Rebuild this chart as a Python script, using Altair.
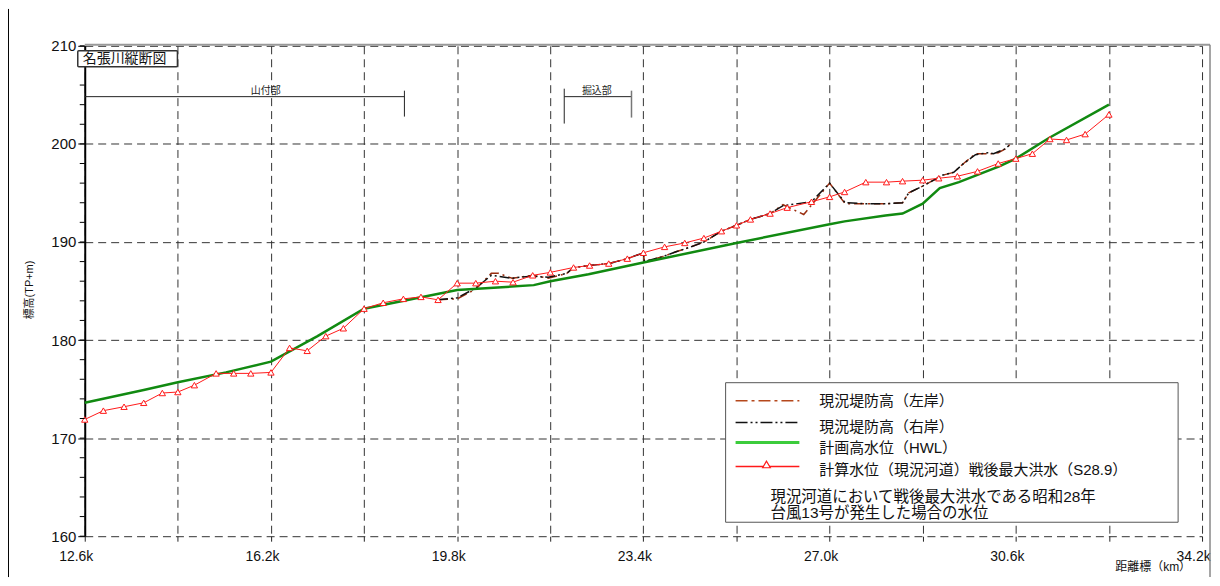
import altair as alt
import pandas as pd

# ---------------- data ----------------
# 計画高水位(HWL)
hwl_km = [12.6, 13.74, 14.4, 15.33, 16.2, 17.1, 18.0, 19.8, 21.28, 21.6, 22.34, 23.4,
          25.2, 27.0, 27.29, 28.08, 28.41, 28.8, 29.13, 29.5, 30.28, 30.6, 31.24, 32.4]
hwl_val = [173.6, 174.9, 175.7, 176.7, 177.8, 180.4, 183.2, 185.1, 185.6, 186.0, 186.7, 187.9,
           189.9, 191.8, 192.1, 192.7, 192.9, 193.9, 195.5, 196.1, 197.7, 198.5, 200.6, 204.0]

# 計算水位(現況河道)戦後最大洪水(S28.9)
calc_km = [12.6, 12.96, 13.36, 13.74, 14.1, 14.4, 14.72, 15.14, 15.48, 15.81, 16.2, 16.56,
           16.9, 17.26, 17.6, 18.0, 18.37, 18.76, 19.1, 19.43, 19.8, 20.16, 20.54, 20.88,
           21.26, 21.6, 22.05, 22.36, 22.73, 23.09, 23.4, 23.81, 24.2, 24.57, 24.91, 25.2,
           25.47, 25.85, 26.18, 26.65, 27.0, 27.29, 27.7, 28.1, 28.41, 28.8, 29.11, 29.47,
           29.86, 30.26, 30.6, 30.92, 31.26, 31.58, 31.94, 32.4]
calc_val = [171.9, 172.8, 173.2, 173.6, 174.6, 174.7, 175.4, 176.6, 176.6, 176.6, 176.7, 179.2,
            178.9, 180.4, 181.2, 183.2, 183.8, 184.2, 184.4, 184.1, 185.8, 185.8, 186.0, 185.9,
            186.6, 186.9, 187.4, 187.6, 187.8, 188.3, 188.9, 189.5, 189.9, 190.4, 191.1, 191.7,
            192.3, 192.9, 193.5, 194.1, 194.6, 195.1, 196.1, 196.1, 196.2, 196.3, 196.5, 196.7,
            197.2, 198.0, 198.5, 199.0, 200.5, 200.4, 201.0, 203.0]

# 現況堤防高(左岸)
left_km = [19.43, 19.8, 20.16, 20.46, 20.6, 20.86, 21.26, 21.56, 21.92, 22.05, 22.36, 22.73,
           23.09, 23.4, 23.42, 23.77, 24.03, 24.32, 24.57, 24.91, 25.2, 25.47, 25.85, 26.1,
           26.5, 27.0, 27.3, 27.7, 28.1, 28.41, 28.53, 28.8, 29.18, 29.4, 29.59, 29.82,
           30.05, 30.17, 30.26, 30.4, 30.5]
left_val = [184.1, 184.2, 185.2, 186.8, 186.8, 186.3, 186.6, 186.3, 186.8, 187.4, 187.6, 187.8,
            188.3, 188.9, 188.0, 188.5, 189.0, 189.5, 190.0, 191.1, 191.7, 192.3, 192.9, 193.8,
            192.8, 196.0, 193.9, 193.9, 193.9, 194.0, 195.0, 195.7, 196.8, 197.1, 198.0, 199.0,
            199.0, 199.0, 199.1, 199.5, 200.0]

# 現況堤防高(右岸)
right_km = [19.43, 19.8, 20.16, 20.46, 20.86, 21.0, 21.26, 21.56, 21.92, 22.05, 22.36, 22.73,
            23.09, 23.4, 23.42, 23.77, 24.03, 24.32, 24.57, 24.91, 25.2, 25.47, 25.85, 26.1,
            26.65, 27.0, 27.3, 27.7, 28.1, 28.41, 28.53, 28.8, 29.18, 29.4, 29.59, 29.82,
            30.05, 30.17, 30.26, 30.4, 30.5]
right_val = [184.1, 184.3, 185.3, 186.6, 186.3, 186.4, 186.5, 186.4, 186.8, 187.4, 187.6, 187.8,
             188.3, 188.9, 188.0, 188.5, 189.0, 189.5, 190.0, 191.1, 191.7, 192.3, 192.9, 193.7,
             194.1, 196.0, 194.0, 193.9, 193.9, 194.0, 195.0, 195.7, 196.8, 197.1, 198.0, 198.9,
             199.1, 199.0, 199.2, 199.5, 200.0]

# section brackets
section_names = ["山付部", "掘込部"]
section_start = [12.6, 21.87]
section_end = [18.78, 23.17]
section_label_km = [16.1, 22.5]

# axis ticks
x_ticks = [12.6, 14.4, 16.2, 18.0, 19.8, 21.6, 23.4, 25.2, 27.0, 28.8, 30.6, 32.4, 34.2]
y_ticks = [160, 170, 180, 190, 200, 210]
y_minor = [v for v in range(160, 211, 2)]

title_text = "名張川縦断図"
y_title = "標高(TP+m)"
x_title = "距離標（km）"
legend_labels = ["現況堤防高（左岸）", "現況堤防高（右岸）", "計画高水位（HWL）",
                 "計算水位（現況河道）戦後最大洪水（S28.9）"]
note_lines = ["現況河道において戦後最大洪水である昭和28年", "台風13号が発生した場合の水位"]

# ---------------- chart ----------------
FONT = "Liberation Sans, Noto Sans CJK JP"
W, H = 1121, 492
PAD = {"left": 77, "top": 37, "right": 10, "bottom": 41}

BROWN = "#9a2e10"
BROWN_LEG = "#b5481c"
GREEN = "#118a11"
GREEN_LEG = "#3ccc3c"
RED = "#ff1a1a"

df_hwl = pd.DataFrame({"km": hwl_km, "val": hwl_val})
df_calc = pd.DataFrame({"km": calc_km, "val": calc_val})
df_left = pd.DataFrame({"km": left_km, "val": left_val})
df_right = pd.DataFrame({"km": right_km, "val": right_val})
df_sec = pd.DataFrame({"name": section_names, "start": section_start,
                       "end": section_end, "lab": section_label_km})
df_minor = pd.DataFrame({"val": y_minor})
one = pd.DataFrame({"k": [0]})

xscale = alt.Scale(domain=[12.6, 34.2], nice=False, zero=False)
yscale = alt.Scale(domain=[160, 210], nice=False, zero=False)

x_axis = alt.Axis(values=x_ticks, grid=True, gridDash=[8, 5], gridColor="#333333",
                  gridWidth=1, domain=False, ticks=True, tickSize=5, tickColor="#222222",
                  labelFont="Liberation Sans", labelFontSize=14, labelColor="#111111",
                  labelPadding=8, labelOffset=-9, labelFlush=False, labelOverlap=False,
                  labelExpr="(round((datum.value-12.6)/1.8) % 2 == 0) ? format(datum.value, '.1f') + 'k' : ''",
                  title=None)
y_axis = alt.Axis(values=y_ticks, grid=True, gridDash=[8, 5], gridColor="#333333",
                  gridWidth=1, domain=True, domainColor="#000000", domainWidth=2,
                  tickSize=7, tickColor="#000000", labelFont="Liberation Sans",
                  labelFontSize=15, labelColor="#111111", labelPadding=2, title=None)

X = alt.X("km:Q", scale=xscale, axis=x_axis)
Y = alt.Y("val:Q", scale=yscale, axis=y_axis)


def txt(s, x, y, size, align="left", color="#111111", angle=None, baseline="middle"):
    props = dict(align=align, baseline=baseline, fontSize=size, font=FONT, color=color)
    if angle is not None:
        props["angle"] = angle
    return alt.Chart(one).mark_text(**props).encode(
        x=alt.value(x), y=alt.value(y), text=alt.value(s))


def prule(x1, x2, y1, y2, color="#000000", width=1.0, dash=None):
    props = dict(color=color, strokeWidth=width)
    if dash:
        props["strokeDash"] = dash
    return alt.Chart(one).mark_rule(**props).encode(
        x=alt.value(x1), x2=alt.value(x2), y=alt.value(y1), y2=alt.value(y2))


left_line = alt.Chart(df_left).mark_line(color=BROWN, strokeWidth=1.5,
                                         strokeDash=[10, 4, 2, 4]).encode(x=X, y=Y)
right_line = alt.Chart(df_right).mark_line(color="#111111", strokeWidth=1.5,
                                           strokeDash=[10, 3, 2, 3, 2, 3]).encode(x=X, y=Y)
hwl_line = alt.Chart(df_hwl).mark_line(color=GREEN, strokeWidth=2.5).encode(x=X, y=Y)
calc_line = alt.Chart(df_calc).mark_line(color=RED, strokeWidth=1).encode(x=X, y=Y)
calc_pts = alt.Chart(df_calc).mark_point(shape="triangle-up", size=40, filled=True,
                                         fill="#ffffff", stroke=RED, strokeWidth=1,
                                         opacity=1).encode(x=X, y=Y)

minor_ticks = alt.Chart(df_minor).mark_rule(color="#000000", strokeWidth=1).encode(
    y=alt.Y("val:Q", scale=yscale), x=alt.value(-5), x2=alt.value(0))

# section brackets
sec_h = alt.Chart(df_sec).mark_rule(color="#222222", strokeWidth=1).encode(
    x=alt.X("start:Q", scale=xscale), x2="end:Q", y=alt.value(51))
sec_r1 = alt.Chart(df_sec.iloc[[0]]).mark_rule(color="#222222", strokeWidth=1).encode(
    x=alt.X("end:Q", scale=xscale), y=alt.value(45), y2=alt.value(71))
sec_l2 = alt.Chart(df_sec.iloc[[1]]).mark_rule(color="#222222", strokeWidth=1).encode(
    x=alt.X("start:Q", scale=xscale), y=alt.value(43), y2=alt.value(78))
sec_r2 = alt.Chart(df_sec.iloc[[1]]).mark_rule(color="#777777", strokeWidth=1.5).encode(
    x=alt.X("end:Q", scale=xscale), y=alt.value(45), y2=alt.value(72))
sec_lab = alt.Chart(df_sec).mark_text(fontSize=10, font=FONT, color="#222222",
                                      baseline="middle").encode(
    x=alt.X("lab:Q", scale=xscale), y=alt.value(45), text="name:N")

# title box
title_box = alt.Chart(one).mark_rect(fill="#ffffff", stroke="#333333", strokeWidth=1.5,
                                     cornerRadius=1).encode(
    x=alt.value(-7), x2=alt.value(93), y=alt.value(5), y2=alt.value(21))
title_lab = txt(title_text, -2, 13.5, 14)

# axis titles
ytitle = txt(y_title, -55, 245, 11, align="center", angle=270)
xtitle = txt(x_title, 1110, 523, 12, align="right")

# frame lines
frame_left = prule(-76.5, -76.5, -37, 533, "#000000", 1)
frame_top = prule(0, 1129, -1, -1, "#999999", 2)
frame_right = prule(1129, 1129, -1, 533, "#888888", 1.5)

# legend
leg_box = alt.Chart(one).mark_rect(fill="#ffffff", stroke="#555555", strokeWidth=1).encode(
    x=alt.value(643), x2=alt.value(1097), y=alt.value(338), y2=alt.value(478))
leg_l1 = prule(653, 717, 356, 356, BROWN_LEG, 1.5, [12, 4, 3, 4])
leg_l2 = prule(653, 717, 378, 378, "#111111", 1.5, [12, 3, 2, 3, 2, 3])
leg_l3 = prule(653, 717, 398, 398, GREEN_LEG, 3)
leg_l4 = prule(653, 717, 422, 422, RED, 1.5)
leg_tri = alt.Chart(one).mark_point(shape="triangle-up", size=60, filled=True, fill="#ffffff",
                                    stroke=RED, strokeWidth=1.2, opacity=1).encode(
    x=alt.value(684), y=alt.value(420))
leg_t = [txt(legend_labels[0], 737, 356, 15), txt(legend_labels[1], 737, 382, 15),
         txt(legend_labels[2], 737, 404, 15), txt(legend_labels[3], 737, 426, 15),
         txt(note_lines[0], 688, 453, 15.5), txt(note_lines[1], 688, 469, 15.5)]

chart = alt.layer(
    left_line, right_line, hwl_line, calc_line, calc_pts, minor_ticks,
    sec_h, sec_r1, sec_l2, sec_r2, sec_lab,
    title_box, title_lab, ytitle, xtitle,
    frame_left, frame_top, frame_right,
    leg_box, leg_l1, leg_l2, leg_l3, leg_l4, leg_tri, *leg_t
).properties(
    width=W, height=H,
    autosize=alt.AutoSizeParams(type="none"),
    padding=PAD,
    background="#ffffff",
).configure_view(strokeWidth=0)

chart.save("out.html", embed_options={"renderer": "svg", "actions": False})
